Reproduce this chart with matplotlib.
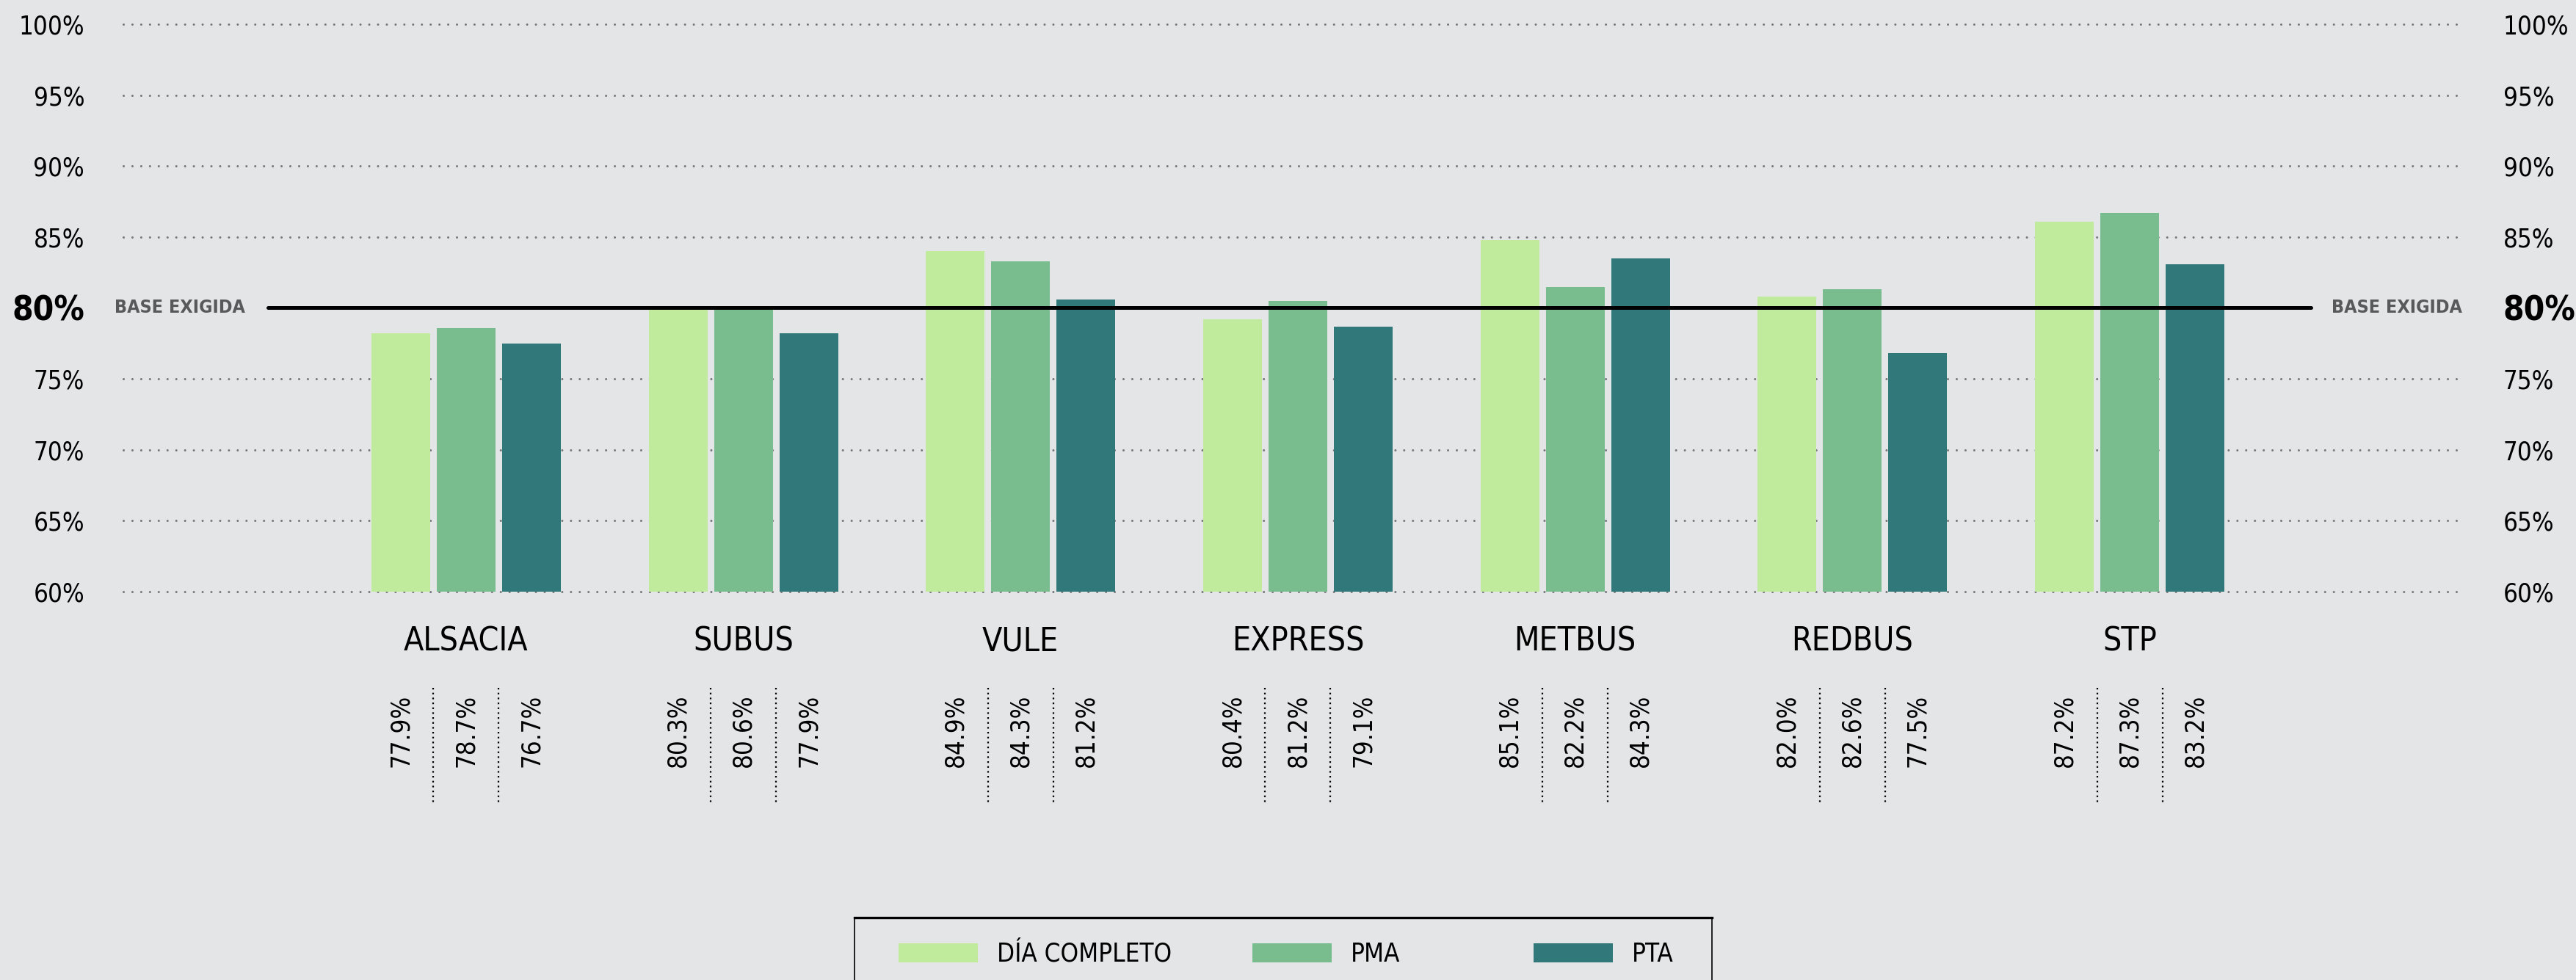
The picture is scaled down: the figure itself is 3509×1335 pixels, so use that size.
import matplotlib
matplotlib.use("Agg")
import matplotlib.pyplot as plt
from matplotlib.patches import Patch
from matplotlib.lines import Line2D

# operators and the three time bands
operators = ['ALSACIA', 'SUBUS', 'VULE', 'EXPRESS', 'METBUS', 'REDBUS', 'STP']
series = ['DÍA COMPLETO', 'PMA', 'PTA']

# bar heights as drawn
dia_completo = [78.2, 80.0, 84.0, 79.2, 84.8, 80.8, 86.1]
pma = [78.6, 80.0, 83.3, 80.5, 81.5, 81.3, 86.7]
pta = [77.5, 78.2, 80.6, 78.7, 83.5, 76.8, 83.1]

# printed values under each bar
dia_completo_lbl = [77.9, 80.3, 84.9, 80.4, 85.1, 82.0, 87.2]
pma_lbl = [78.7, 80.6, 84.3, 81.2, 82.2, 82.6, 87.3]
pta_lbl = [76.7, 77.9, 81.2, 79.1, 84.3, 77.5, 83.2]

base = 80
yticks = [60, 65, 70, 75, 80, 85, 90, 95, 100]

colors = ['#C0EB9D', '#79BC8D', '#31787B']
bg = '#E4E5E7'

plt.rcParams['font.family'] = ['DejaVu Sans']
plt.rcParams['font.stretch'] = 'condensed'

W, H = 3509, 1335
fig = plt.figure(figsize=(W / 100, H / 100), dpi=100, facecolor=bg)
ax = fig.add_axes([168 / W, 1 - 806 / H, 3189 / W, 773 / H])
ax.set_facecolor(bg)

x = list(range(len(operators)))
step = 0.2356
width = 0.212
heights = [dia_completo, pma, pta]
labels = [dia_completo_lbl, pma_lbl, pta_lbl]

for k in range(3):
    xs = [xi + (k - 1) * step for xi in x]
    ax.bar(xs, heights[k], width=width, color=colors[k], zorder=2)
    for xi, v in zip(xs, labels[k]):
        ax.text(xi, -0.2445, f'{v:.1f}%', rotation=90, ha='center', va='center',
                fontsize=25, transform=ax.get_xaxis_transform(), clip_on=False)

# dotted separators between printed values
for xi in x:
    for s in (-0.5, 0.5):
        ax.plot([xi + s * step, xi + s * step], [-0.1695, -0.3765], color='black',
                lw=1.6, linestyle=(0, (1, 2)), transform=ax.get_xaxis_transform(),
                clip_on=False)
    ax.text(xi, -0.088, operators[xi], ha='center', va='center', fontsize=32,
            transform=ax.get_xaxis_transform())

# dotted grid
for v in yticks:
    if v == base:
        continue
    ax.axhline(v, color='#76777A', lw=2.2, linestyle=(0, (0.01, 3.9)),
               dash_capstyle='round', zorder=0, clip_on=False)

# base line
ax.plot([-0.715, 6.654], [base, base], color='black', lw=3.6,
        solid_capstyle='round', zorder=3)
ax.text(-1.268, base, 'BASE EXIGIDA', ha='left', va='center', fontsize=18,
        fontweight='bold', color='#58595B')
ax.text(7.199, base, 'BASE EXIGIDA', ha='right', va='center', fontsize=18,
        fontweight='bold', color='#58595B')

ax.set_xlim(-1.236, 7.207)
ax.set_ylim(60, 100)
ax.set_xticks([])
ax.set_yticks(yticks)
ax.set_yticklabels([f'{v}%' for v in yticks])
ax.tick_params(axis='y', length=0, labelsize=25, pad=38, labelleft=True,
               labelright=True)
for t, v in zip(ax.yaxis.get_major_ticks(), yticks):
    if v == base:
        for lab in (t.label1, t.label2):
            lab.set_fontweight('bold')
            lab.set_fontsize(33)
for sp in ax.spines.values():
    sp.set_visible(False)

# legend box (cut by the bottom edge)
lx0, lx1, ly = 1164 / W, 2332 / W, 1 - 1250 / H
fig.add_artist(Line2D([lx0, lx1], [ly, ly], color='black', lw=2.4))
fig.add_artist(Line2D([lx0, lx0], [ly, -0.01], color='black', lw=1.2))
fig.add_artist(Line2D([lx1, lx1], [ly, -0.01], color='black', lw=1.2))

# one legend entry per series, each at its own spot in the box
entry_x = [1224, 1706, 2089]
for c, name, ex in zip(colors, series, entry_x):
    fig.legend([Patch(facecolor=c, edgecolor='none')], [name], frameon=False,
               loc='center left', bbox_to_anchor=(ex / W, 1 - 1300 / H),
               fontsize=25, handlelength=3.1, handleheight=0.8,
               handletextpad=0.75, borderpad=0, borderaxespad=0)

fig.savefig('out.png', dpi=100, facecolor=bg)
